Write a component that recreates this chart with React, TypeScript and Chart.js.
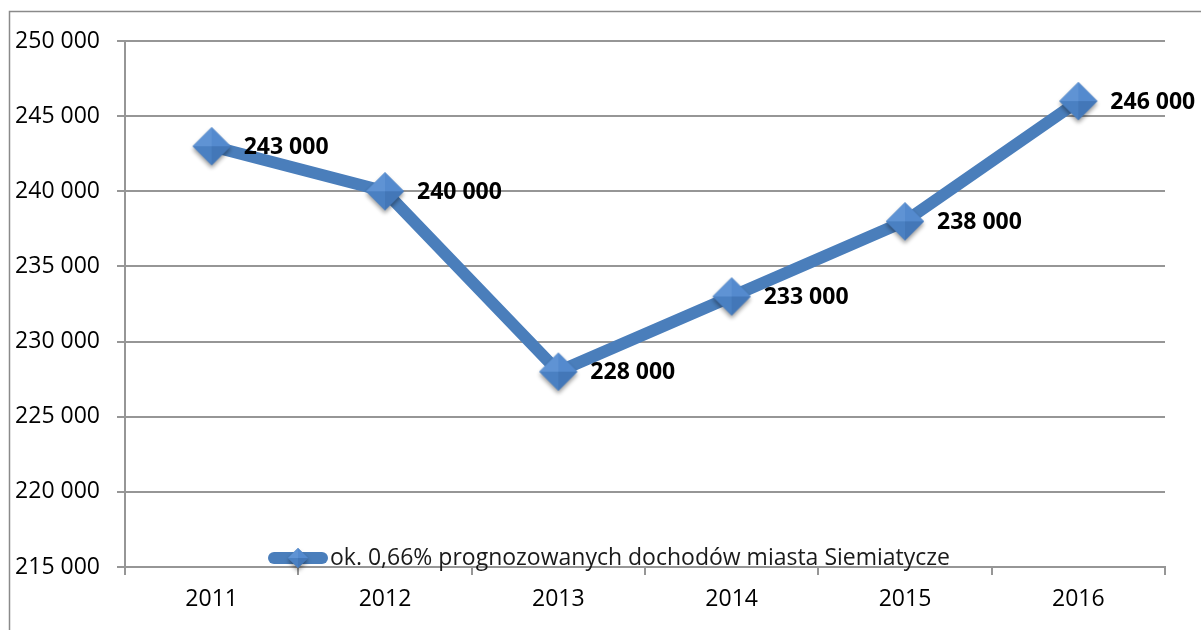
import React, { useEffect, useRef } from "react";
import { Chart, registerables } from "chart.js";

Chart.register(...registerables);

const categories = ["2011", "2012", "2013", "2014", "2015", "2016"];
const values = [243000, 240000, 228000, 233000, 238000, 246000];
const seriesLabel = "ok. 0,66% prognozowanych dochodów miasta Siemiatycze";
const yMin = 215000;
const yMax = 250000;
const yStep = 5000;

const LINE_COLOR = "#4a7ebb";
const GRID_COLOR = "#969696";
const FONT = "'Open Sans', sans-serif";

function fmt(v: number): string {
  const s = Math.round(v).toString();
  return s.replace(/\B(?=(\d{3})+(?!\d))/g, " ");
}

function makeDiamond(r: number): HTMLCanvasElement {
  const size = Math.ceil(r * 2 + 14);
  const c = document.createElement("canvas");
  c.width = size;
  c.height = size;
  const g = c.getContext("2d")!;
  const cx = size / 2;
  const cy = size / 2;
  g.save();
  g.shadowColor = "rgba(0,0,0,0.4)";
  g.shadowBlur = 4;
  g.shadowOffsetY = 3;
  g.beginPath();
  g.moveTo(cx, cy - r);
  g.lineTo(cx + r, cy);
  g.lineTo(cx, cy + r);
  g.lineTo(cx - r, cy);
  g.closePath();
  g.fillStyle = "#4a7ebb";
  g.fill();
  g.restore();
  const facets: [number, number, number, number, string][] = [
    [cx, cy - r, cx - r, cy, "#5f93d4"],
    [cx, cy - r, cx + r, cy, "#548ace"],
    [cx - r, cy, cx, cy + r, "#4a80c2"],
    [cx + r, cy, cx, cy + r, "#4377b8"],
  ];
  for (const [x1, y1, x2, y2, col] of facets) {
    g.beginPath();
    g.moveTo(cx, cy);
    g.lineTo(x1, y1);
    g.lineTo(x2, y2);
    g.closePath();
    g.fillStyle = col;
    g.fill();
  }
  return c;
}

export default function App() {
  const ref = useRef<HTMLCanvasElement | null>(null);

  useEffect(() => {
    if (!ref.current) return;
    const bigDiamond = makeDiamond(19);
    const smallDiamond = makeDiamond(10);

    const borderPlugin = {
      id: "frameBorder",
      beforeDraw(chart: any) {
        const ctx = chart.ctx;
        ctx.save();
        ctx.fillStyle = "#ffffff";
        ctx.fillRect(0, 0, chart.width, chart.height);
        ctx.strokeStyle = "#8a8a8a";
        ctx.lineWidth = 1.5;
        ctx.beginPath();
        ctx.moveTo(9.5, chart.height);
        ctx.lineTo(9.5, 11.5);
        ctx.lineTo(chart.width, 11.5);
        ctx.stroke();
        ctx.restore();
      },
    };

    const labelPlugin = {
      id: "valueLabels",
      afterDatasetsDraw(chart: any) {
        const ctx = chart.ctx;
        const meta = chart.getDatasetMeta(0);
        ctx.save();
        ctx.font = `bold 23px ${FONT}`;
        ctx.fillStyle = "#000000";
        ctx.textAlign = "left";
        ctx.textBaseline = "middle";
        meta.data.forEach((pt: any, i: number) => {
          ctx.fillText(fmt(values[i]), pt.x + 32, pt.y + 1);
        });
        ctx.restore();
      },
    };

    const legendPlugin = {
      id: "customLegend",
      afterDraw(chart: any) {
        const ctx = chart.ctx;
        const y = 558;
        ctx.save();
        ctx.strokeStyle = LINE_COLOR;
        ctx.lineWidth = 12;
        ctx.lineCap = "round";
        ctx.beginPath();
        ctx.moveTo(274, y);
        ctx.lineTo(322, y);
        ctx.stroke();
        ctx.drawImage(smallDiamond, 298 - smallDiamond.width / 2, y - smallDiamond.height / 2);
        ctx.font = `23px ${FONT}`;
        ctx.fillStyle = "#1a1a1a";
        ctx.textAlign = "left";
        ctx.textBaseline = "middle";
        ctx.fillText(seriesLabel, 330, y);
        ctx.restore();
      },
    };

    const chart = new Chart(ref.current, {
      type: "line",
      data: {
        labels: categories,
        datasets: [
          {
            label: seriesLabel,
            data: values,
            borderColor: LINE_COLOR,
            borderWidth: 12,
            backgroundColor: LINE_COLOR,
            pointStyle: bigDiamond as any,
            pointRadius: 19,
            tension: 0,
          },
        ],
      },
      options: {
        responsive: false,
        animation: false,
        layout: { padding: { left: 10, top: 41, right: 36, bottom: 0 } },
        plugins: {
          legend: { display: false },
          tooltip: { enabled: false },
        },
        scales: {
          x: {
            offset: true,
            grid: {
              offset: true,
              drawOnChartArea: false,
              drawTicks: true,
              tickLength: 8,
              color: GRID_COLOR,
              lineWidth: 2,
            },
            border: { display: true, color: GRID_COLOR, width: 2 },
            ticks: {
              font: { family: FONT, size: 23 },
              color: "#000000",
              padding: 11,
              maxRotation: 0,
            },
            afterFit(scale: any) {
              scale.height = 63;
              scale.paddingLeft = 0;
              scale.paddingRight = 0;
            },
          },
          y: {
            min: yMin,
            max: yMax,
            ticks: {
              stepSize: yStep,
              font: { family: FONT, size: 23 },
              color: "#000000",
              padding: 17,
              callback: (v: any) => fmt(Number(v)),
            },
            grid: {
              color: GRID_COLOR,
              lineWidth: 2,
              tickLength: 8,
              drawTicks: true,
            },
            border: { display: true, color: GRID_COLOR, width: 2 },
            afterFit(scale: any) {
              scale.width = 115;
              scale.paddingTop = 0;
              scale.paddingBottom = 0;
            },
          },
        },
      },
      plugins: [borderPlugin, labelPlugin, legendPlugin],
    });

    return () => chart.destroy();
  }, []);

  return (
    <div style={{ position: "fixed", left: 0, top: 0, width: 1201, height: 630 }}>
      <canvas ref={ref} width={1201} height={630} />
    </div>
  );
}
